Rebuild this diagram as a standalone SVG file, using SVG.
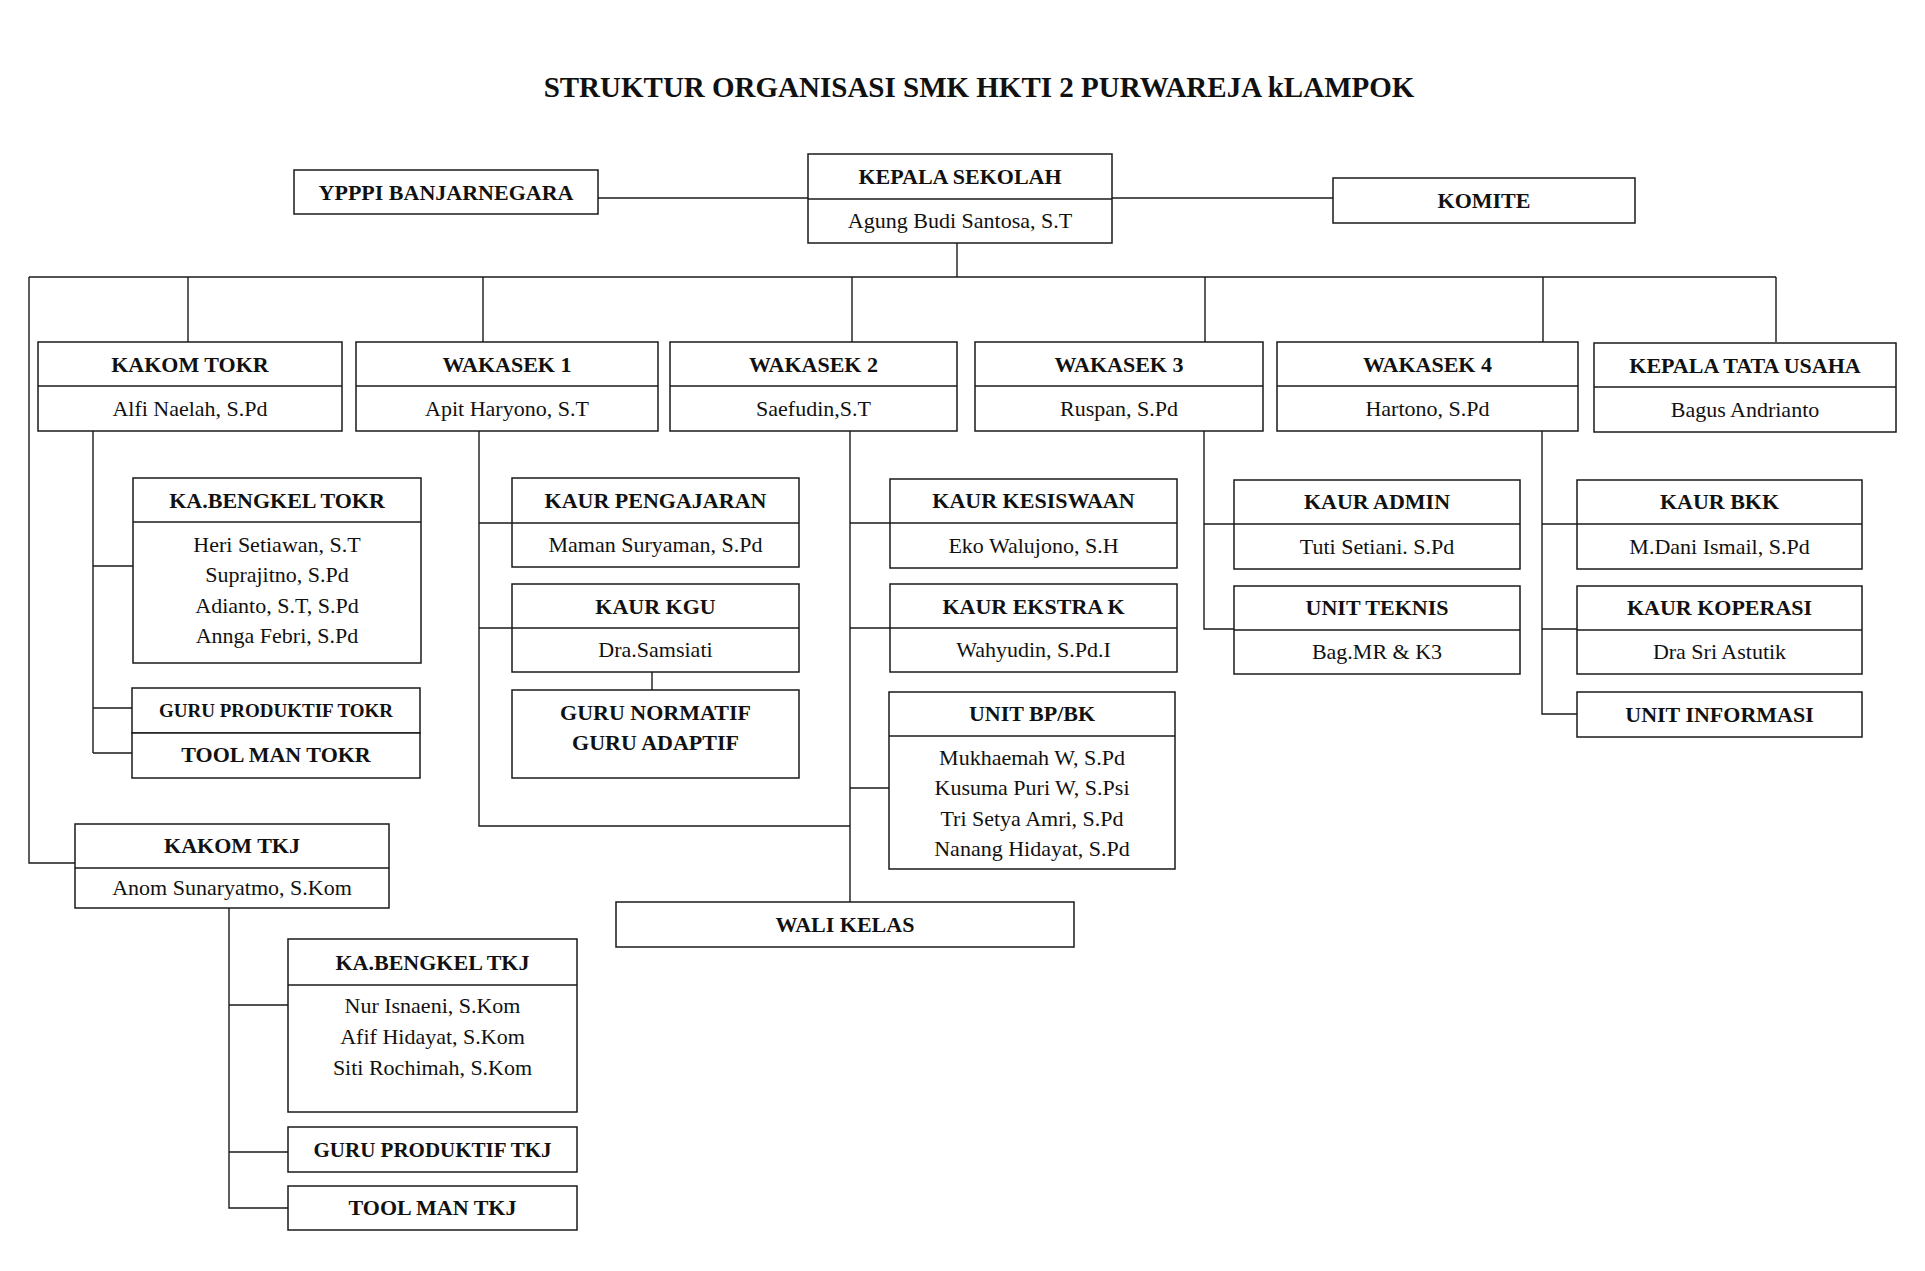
<svg xmlns="http://www.w3.org/2000/svg" width="1925" height="1271" viewBox="0 0 1925 1271">
<style>
.bg{fill:#ffffff}
.box{fill:#ffffff;stroke:#1a1a1a;stroke-width:1.5}
.dv{stroke:#1a1a1a;stroke-width:1.5}
.conn{stroke:#1a1a1a;stroke-width:1.4;fill:none}
text{font-family:"Liberation Serif","Times New Roman",serif;fill:#111;text-anchor:middle}
.t{font-size:29px;font-weight:bold}
.h{font-size:22px;font-weight:bold}
.hs{font-size:19px;font-weight:bold}
.hm{font-size:21px;font-weight:bold}
.n{font-size:22px}
</style>
<rect class="bg" x="0" y="0" width="1925" height="1271"/>
<text class="t" x="979" y="97">STRUKTUR ORGANISASI SMK HKTI 2 PURWAREJA kLAMPOK</text>

<g id="connectors">
<path class="conn" d="M598 198 H1333"/>
<path class="conn" d="M957 243 V277"/>
<path class="conn" d="M29 277 H1776"/>
<path class="conn" d="M188 277 V342 M483 277 V342 M852 277 V342 M1205 277 V342 M1543 277 V342 M1776 277 V342"/>
<path class="conn" d="M29 277 V863 H75"/>
<path class="conn" d="M93 431 V753 M93 566 H133 M93 708 H132 M93 753 H132"/>
<path class="conn" d="M479 431 V826 H850 M479 523 H512 M479 628 H512"/>
<path class="conn" d="M652 672 V690"/>
<path class="conn" d="M850 431 V902 M850 523 H890 M850 628 H890 M850 788 H889"/>
<path class="conn" d="M1204 431 V629 H1234 M1204 524 H1234"/>
<path class="conn" d="M1542 431 V714 H1577 M1542 524 H1577 M1542 629 H1577"/>
<path class="conn" d="M229 908 V1208 H288 M229 1005 H288 M229 1152 H288"/>
</g>

<g id="ypppi">
<rect class="box" x="294" y="170" width="304" height="44"/>
<text class="h" x="446" y="200">YPPPI BANJARNEGARA</text>
</g>
<g id="kepala-sekolah">
<rect class="box" x="808" y="154" width="304" height="89"/>
<line class="dv" x1="808" y1="199" x2="1112" y2="199"/>
<text class="h" x="960" y="184">KEPALA SEKOLAH</text>
<text class="n" x="960" y="228">Agung Budi Santosa, S.T</text>
</g>
<g id="komite">
<rect class="box" x="1333" y="178" width="302" height="45"/>
<text class="h" x="1484" y="208">KOMITE</text>
</g>

<g id="kakom-tokr">
<rect class="box" x="38" y="342" width="304" height="89"/>
<line class="dv" x1="38" y1="386" x2="342" y2="386"/>
<text class="h" x="190" y="372">KAKOM TOKR</text>
<text class="n" x="190" y="416">Alfi Naelah, S.Pd</text>
</g>
<g id="wakasek1">
<rect class="box" x="356" y="342" width="302" height="89"/>
<line class="dv" x1="356" y1="386" x2="658" y2="386"/>
<text class="h" x="507" y="372">WAKASEK 1</text>
<text class="n" x="507" y="416">Apit Haryono, S.T</text>
</g>
<g id="wakasek2">
<rect class="box" x="670" y="342" width="287" height="89"/>
<line class="dv" x1="670" y1="386" x2="957" y2="386"/>
<text class="h" x="813.5" y="372">WAKASEK 2</text>
<text class="n" x="813.5" y="416">Saefudin,S.T</text>
</g>
<g id="wakasek3">
<rect class="box" x="975" y="342" width="288" height="89"/>
<line class="dv" x1="975" y1="386" x2="1263" y2="386"/>
<text class="h" x="1119" y="372">WAKASEK 3</text>
<text class="n" x="1119" y="416">Ruspan, S.Pd</text>
</g>
<g id="wakasek4">
<rect class="box" x="1277" y="342" width="301" height="89"/>
<line class="dv" x1="1277" y1="386" x2="1578" y2="386"/>
<text class="h" x="1427.5" y="372">WAKASEK 4</text>
<text class="n" x="1427.5" y="416">Hartono, S.Pd</text>
</g>
<g id="kepala-tata-usaha">
<rect class="box" x="1594" y="343" width="302" height="89"/>
<line class="dv" x1="1594" y1="387" x2="1896" y2="387"/>
<text class="h" x="1745" y="373">KEPALA TATA USAHA</text>
<text class="n" x="1745" y="417">Bagus Andrianto</text>
</g>

<g id="ka-bengkel-tokr">
<rect class="box" x="133" y="478" width="288" height="185"/>
<line class="dv" x1="133" y1="522" x2="421" y2="522"/>
<text class="h" x="277" y="508">KA.BENGKEL TOKR</text>
<text class="n" x="277" y="552">Heri Setiawan, S.T</text>
<text class="n" x="277" y="582">Suprajitno, S.Pd</text>
<text class="n" x="277" y="613">Adianto, S.T, S.Pd</text>
<text class="n" x="277" y="643">Annga Febri, S.Pd</text>
</g>
<g id="guru-produktif-tokr">
<rect class="box" x="132" y="688" width="288" height="45"/>
<text class="hs" x="276" y="717">GURU PRODUKTIF TOKR</text>
</g>
<g id="tool-man-tokr">
<rect class="box" x="132" y="733" width="288" height="45"/>
<text class="h" x="276" y="762">TOOL MAN TOKR</text>
</g>

<g id="kaur-pengajaran">
<rect class="box" x="512" y="478" width="287" height="89"/>
<line class="dv" x1="512" y1="523" x2="799" y2="523"/>
<text class="h" x="655.5" y="508">KAUR PENGAJARAN</text>
<text class="n" x="655.5" y="552">Maman Suryaman, S.Pd</text>
</g>
<g id="kaur-kgu">
<rect class="box" x="512" y="584" width="287" height="88"/>
<line class="dv" x1="512" y1="628" x2="799" y2="628"/>
<text class="h" x="655.5" y="614">KAUR KGU</text>
<text class="n" x="655.5" y="657">Dra.Samsiati</text>
</g>
<g id="guru-normatif-adaptif">
<rect class="box" x="512" y="690" width="287" height="88"/>
<text class="h" x="655.5" y="720">GURU NORMATIF</text>
<text class="h" x="655.5" y="750">GURU ADAPTIF</text>
</g>

<g id="kaur-kesiswaan">
<rect class="box" x="890" y="479" width="287" height="89"/>
<line class="dv" x1="890" y1="523" x2="1177" y2="523"/>
<text class="h" x="1033.5" y="508">KAUR KESISWAAN</text>
<text class="n" x="1033.5" y="553">Eko Walujono, S.H</text>
</g>
<g id="kaur-ekstra-k">
<rect class="box" x="890" y="584" width="287" height="88"/>
<line class="dv" x1="890" y1="628" x2="1177" y2="628"/>
<text class="h" x="1033.5" y="614">KAUR EKSTRA K</text>
<text class="n" x="1033.5" y="657">Wahyudin, S.Pd.I</text>
</g>
<g id="unit-bp-bk">
<rect class="box" x="889" y="692" width="286" height="177"/>
<line class="dv" x1="889" y1="736" x2="1175" y2="736"/>
<text class="h" x="1032" y="721">UNIT BP/BK</text>
<text class="n" x="1032" y="765">Mukhaemah W, S.Pd</text>
<text class="n" x="1032" y="795">Kusuma Puri W, S.Psi</text>
<text class="n" x="1032" y="826">Tri Setya Amri, S.Pd</text>
<text class="n" x="1032" y="856">Nanang Hidayat, S.Pd</text>
</g>
<g id="wali-kelas">
<rect class="box" x="616" y="902" width="458" height="45"/>
<text class="h" x="845" y="932">WALI KELAS</text>
</g>

<g id="kaur-admin">
<rect class="box" x="1234" y="480" width="286" height="89"/>
<line class="dv" x1="1234" y1="524" x2="1520" y2="524"/>
<text class="h" x="1377" y="509">KAUR ADMIN</text>
<text class="n" x="1377" y="554">Tuti Setiani. S.Pd</text>
</g>
<g id="unit-teknis">
<rect class="box" x="1234" y="586" width="286" height="88"/>
<line class="dv" x1="1234" y1="630" x2="1520" y2="630"/>
<text class="h" x="1377" y="615">UNIT TEKNIS</text>
<text class="n" x="1377" y="659">Bag.MR &amp; K3</text>
</g>

<g id="kaur-bkk">
<rect class="box" x="1577" y="480" width="285" height="89"/>
<line class="dv" x1="1577" y1="524" x2="1862" y2="524"/>
<text class="h" x="1719.5" y="509">KAUR BKK</text>
<text class="n" x="1719.5" y="554">M.Dani Ismail, S.Pd</text>
</g>
<g id="kaur-koperasi">
<rect class="box" x="1577" y="586" width="285" height="88"/>
<line class="dv" x1="1577" y1="630" x2="1862" y2="630"/>
<text class="h" x="1719.5" y="615">KAUR KOPERASI</text>
<text class="n" x="1719.5" y="659">Dra Sri Astutik</text>
</g>
<g id="unit-informasi">
<rect class="box" x="1577" y="692" width="285" height="45"/>
<text class="h" x="1719.5" y="722">UNIT INFORMASI</text>
</g>

<g id="kakom-tkj">
<rect class="box" x="75" y="824" width="314" height="84"/>
<line class="dv" x1="75" y1="868" x2="389" y2="868"/>
<text class="h" x="232" y="853">KAKOM TKJ</text>
<text class="n" x="232" y="895">Anom Sunaryatmo, S.Kom</text>
</g>
<g id="ka-bengkel-tkj">
<rect class="box" x="288" y="939" width="289" height="173"/>
<line class="dv" x1="288" y1="985" x2="577" y2="985"/>
<text class="h" x="432.5" y="970">KA.BENGKEL TKJ</text>
<text class="n" x="432.5" y="1013">Nur Isnaeni, S.Kom</text>
<text class="n" x="432.5" y="1044">Afif Hidayat, S.Kom</text>
<text class="n" x="432.5" y="1075">Siti Rochimah, S.Kom</text>
</g>
<g id="guru-produktif-tkj">
<rect class="box" x="288" y="1127" width="289" height="45"/>
<text class="hm" x="432.5" y="1157">GURU PRODUKTIF TKJ</text>
</g>
<g id="tool-man-tkj">
<rect class="box" x="288" y="1186" width="289" height="44"/>
<text class="h" x="432.5" y="1215">TOOL MAN TKJ</text>
</g>
</svg>
